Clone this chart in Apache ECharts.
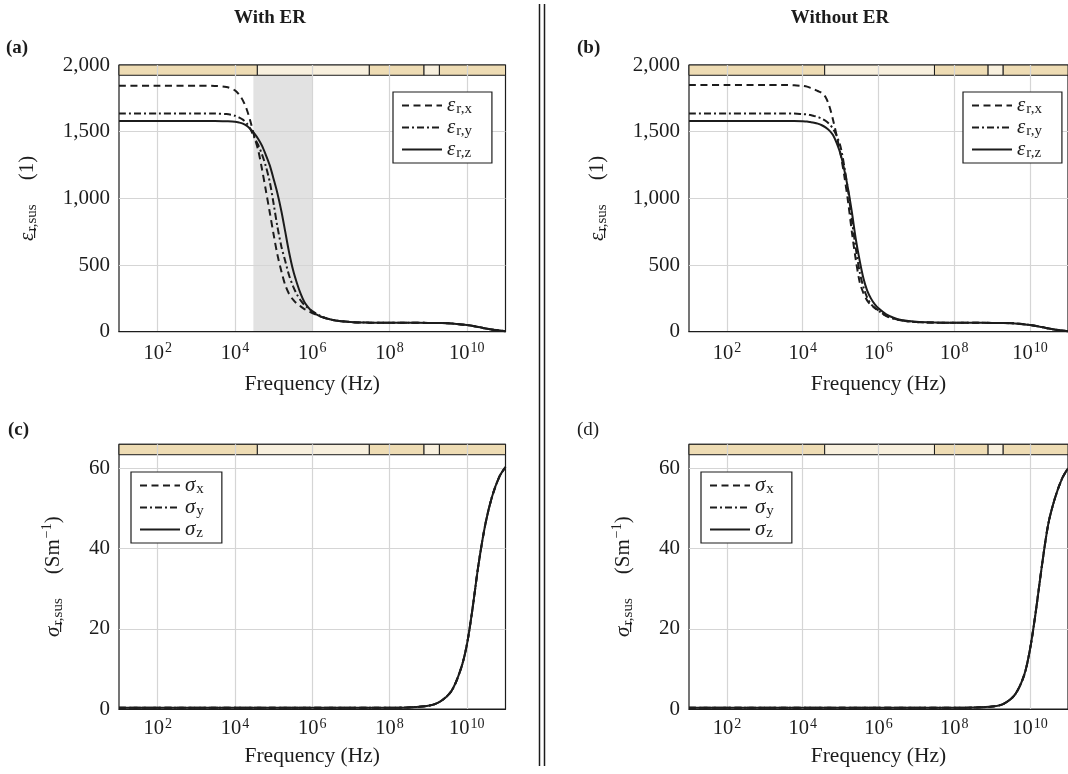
<!DOCTYPE html>
<html>
<head>
<meta charset="utf-8">
<script src="https://cdn.jsdelivr.net/npm/echarts@6/dist/echarts.min.js"></script>
<style>
  html, body { margin: 0; padding: 0; background: #fff; }
  #chart { width: 1068px; height: 774px; }
</style>
</head>
<body>
<div id="chart"></div>
<script>
// ---- data -------------------------------------------------------------
// frequency grid (Hz) of the permittivity curves
const freqEps = [1e1, 1e2, 1e3, 3e3, 6e3, 1e4, 1.3e4, 1.6e4, 2e4, 2.5e4,
                 3.2e4, 4e4, 5e4, 6.3e4, 8e4, 1e5, 1.25e5, 1.6e5, 2e5, 2.5e5,
                 3.2e5, 4e5, 5e5, 6.3e5, 8e5, 1e6, 1.6e6, 2.5e6, 4e6, 1e7,
                 3e7, 1e8, 3e8, 1e9, 2e9, 4e9, 1e10, 2e10, 4e10, 1e11];

// relative permittivity of the suspension, with ER
const epsXWithER = [1845, 1845, 1845, 1843, 1835, 1810, 1775, 1735, 1670, 1580,
                    1460, 1360, 1220, 1060, 890, 730, 580, 450, 350, 285,
                    240, 210, 190, 170, 155, 140, 115, 97, 84, 72,
                    68, 67, 67, 66, 65, 62, 50, 35, 18, 4];
const epsYWithER = [1637, 1637, 1637, 1636, 1632, 1620, 1605, 1590, 1565, 1520,
                    1455, 1400, 1330, 1240, 1120, 960, 790, 635, 530, 425,
                    340, 280, 235, 200, 175, 155, 120, 98, 84, 72,
                    68, 67, 67, 66, 65, 62, 50, 35, 18, 4];
const epsZWithER = [1580, 1580, 1580, 1580, 1578, 1575, 1568, 1560, 1545, 1520,
                    1485, 1445, 1395, 1325, 1245, 1145, 1040, 900, 750, 600,
                    460, 365, 285, 220, 180, 150, 115, 97, 84, 72,
                    68, 67, 67, 66, 65, 62, 50, 35, 18, 4];

// relative permittivity of the suspension, without ER
const epsXNoER = [1850, 1850, 1850, 1850, 1848, 1843, 1838, 1828, 1818, 1805,
                  1790, 1760, 1695, 1590, 1460, 1330, 1170, 960, 740, 545,
                  370, 290, 235, 200, 178, 160, 118, 98, 84, 72,
                  68, 67, 67, 66, 65, 62, 50, 35, 18, 4];
const epsYNoER = [1637, 1637, 1637, 1637, 1636, 1632, 1630, 1625, 1618, 1610,
                  1597, 1582, 1558, 1522, 1465, 1385, 1240, 1045, 830, 630,
                  445, 335, 258, 208, 178, 157, 118, 98, 84, 72,
                  68, 67, 67, 66, 65, 62, 50, 35, 18, 4];
const epsZNoER = [1580, 1580, 1580, 1580, 1580, 1578, 1576, 1572, 1567, 1560,
                  1548, 1532, 1510, 1475, 1410, 1330, 1215, 1060, 890, 700,
                  530, 400, 310, 250, 205, 175, 130, 105, 88, 74,
                  69, 67, 67, 66, 65, 62, 50, 35, 18, 4];

// conductivity (S/m); the x, y and z components coincide
const freqSigma = [1e1, 1e3, 1e5, 1e7, 1e8, 3e8, 1e9, 2e9, 4e9, 7e9,
                   1e10, 1.4e10, 2e10, 3e10, 4.5e10, 7e10, 1e11];
const sigmaWithER = [0.3, 0.3, 0.3, 0.3, 0.32, 0.4, 0.8, 1.8, 4.5, 10,
                     16, 25, 36, 46, 53, 58, 60.3];
const sigmaNoER = [0.3, 0.3, 0.3, 0.3, 0.3, 0.35, 0.6, 1.3, 3.6, 8.5,
                   15, 24, 35, 46, 52.5, 57.5, 60];

// frequency bands shown in the strip above each plot
const bandEdges = [1e1, 3.8e4, 3e7, 7.8e8, 1.95e9, 1e11];
const bandColors = ['#eedcb4', '#f8f0de', '#eedcb4', '#f8f0de', '#eedcb4'];
// highlighted frequency range in panel (a)
const shadedRange = [3e4, 1e6];

// axis extents; frequency ticks every two decades
const freqRange = [1e1, 1e11];
const freqTickBase = 100;
const epsAxis = { max: 2000, step: 500, stripFrom: 1923 };
const sigmaAxis = { max: 66, step: 20, stripFrom: 63.4 };

// ---- styling ----------------------------------------------------------
const SERIF = "'Liberation Serif', 'DejaVu Serif', serif";
const INK = '#1c1c1c';
const GRIDLINE = '#d5d5d5';
const DASH = [7, 4.5];
const DASHDOT = [7, 3, 2, 3];

const panels = [
  { left: 119, top: 65,    height: 266.7, axis: epsAxis,   kind: 'eps',   nameGap: 42, labelMargin: 10 },
  { left: 689, top: 65,    height: 266.7, axis: epsAxis,   kind: 'eps',   nameGap: 42, labelMargin: 10 },
  { left: 119, top: 444.3, height: 264.7, axis: sigmaAxis, kind: 'sigma', nameGap: 36, labelMargin: 8 },
  { left: 689, top: 444.3, height: 264.7, axis: sigmaAxis, kind: 'sigma', nameGap: 36, labelMargin: 8 }
];
const PLOT_W = 386.5;

const pairs = (xs, ys) => xs.map((x, i) => [x, ys[i]]);

const nameRich = {
  g:  { fontFamily: SERIF, fontSize: 21, fontStyle: 'italic', color: INK },
  s:  { fontFamily: SERIF, fontSize: 15, color: INK, padding: [11, 0, 0, 1] },
  m:  { fontFamily: SERIF, fontSize: 21, color: INK },
  mg: { fontFamily: SERIF, fontSize: 21, color: INK, padding: [0, 0, 0, 24] },
  p:  { fontFamily: SERIF, fontSize: 14, color: INK, padding: [0, 0, 11, 1] }
};

function curve(name, idx, xs, ys, type) {
  return {
    type: 'line', name, xAxisIndex: idx, yAxisIndex: idx,
    data: pairs(xs, ys), symbol: 'none', showSymbol: false,
    smooth: 0.3, silent: true, z: 4,
    lineStyle: { color: INK, width: 2, type },
    itemStyle: { color: INK }
  };
}

function stripSeries(idx, lo, hi) {
  return {
    type: 'line', xAxisIndex: idx, yAxisIndex: idx, data: [], silent: true, z: 3,
    markArea: {
      silent: true,
      itemStyle: { borderColor: INK, borderWidth: 1 },
      label: { show: false },
      data: bandColors.map((c, i) => [
        { coord: [bandEdges[i], lo], itemStyle: { color: c, borderColor: INK, borderWidth: 1 } },
        { coord: [bandEdges[i + 1], hi] }
      ])
    }
  };
}

function shadeSeries(idx, lo, hi) {
  return {
    type: 'line', xAxisIndex: idx, yAxisIndex: idx, data: [], silent: true, z: 1,
    markArea: {
      silent: true,
      label: { show: false },
      itemStyle: { color: '#e2e2e2', borderWidth: 0 },
      data: [[{ coord: [shadedRange[0], lo] }, { coord: [shadedRange[1], hi] }]]
    }
  };
}

const grids = panels.map(p => ({
  left: p.left, top: p.top, width: PLOT_W, height: p.height,
  show: true, borderColor: INK, borderWidth: 1.2, backgroundColor: '#fff', z: 0
}));

const xAxes = panels.map((p, i) => ({
  type: 'log', logBase: freqTickBase, gridIndex: i, min: freqRange[0], max: freqRange[1],
  splitNumber: 5, z: 2,
  name: 'Frequency (Hz)', nameLocation: 'middle', nameGap: p.nameGap,
  nameTextStyle: { fontFamily: SERIF, fontSize: 21.5, color: INK },
  axisLine: { show: true, lineStyle: { color: INK, width: 1.2 } },
  axisTick: { show: false },
  minorTick: { show: false },
  splitLine: { show: true, showMinLine: false, showMaxLine: false,
               lineStyle: { color: GRIDLINE, width: 1.2 } },
  axisLabel: {
    margin: p.labelMargin, showMinLabel: false, showMaxLabel: false,
    formatter: v => '{m|10}{p|' + Math.round(Math.log10(v)) + '}',
    rich: {
      m: { fontFamily: SERIF, fontSize: 20.5, color: INK },
      p: { fontFamily: SERIF, fontSize: 14, color: INK, padding: [0, 0, 10, 1] }
    }
  }
}));

const yAxes = panels.map((p, i) => ({
  type: 'value', gridIndex: i, min: 0, max: p.axis.max, interval: p.axis.step, z: 2,
  name: p.kind === 'eps'
    ? '{g|ε\u0332}{s|r,sus}{mg|(1)}'
    : '{g|σ\u0332}{s|r,sus}{mg|(Sm}{p|\u22121}{m|)}',
  nameLocation: 'middle', nameRotate: 90,
  nameGap: p.kind === 'eps' ? 79 : 53,
  nameTextStyle: { rich: nameRich },
  axisLine: { show: false },
  axisTick: { show: false },
  splitLine: { show: true, showMinLine: false, showMaxLine: false,
               lineStyle: { color: GRIDLINE, width: 1.2 } },
  axisLabel: {
    margin: 9, showMaxLabel: p.kind === 'eps',
    fontFamily: SERIF, fontSize: 21, color: INK,
    formatter: v => v.toLocaleString('en-US')
  }
}));

const series = [
  shadeSeries(0, 0, epsAxis.stripFrom),
  stripSeries(0, epsAxis.stripFrom, epsAxis.max),
  curve('εx', 0, freqEps, epsXWithER, DASH),
  curve('εy', 0, freqEps, epsYWithER, DASHDOT),
  curve('εz', 0, freqEps, epsZWithER, 'solid'),

  stripSeries(1, epsAxis.stripFrom, epsAxis.max),
  curve('εx', 1, freqEps, epsXNoER, DASH),
  curve('εy', 1, freqEps, epsYNoER, DASHDOT),
  curve('εz', 1, freqEps, epsZNoER, 'solid'),

  stripSeries(2, sigmaAxis.stripFrom, sigmaAxis.max),
  curve('σx', 2, freqSigma, sigmaWithER, DASH),
  curve('σy', 2, freqSigma, sigmaWithER, DASHDOT),
  curve('σz', 2, freqSigma, sigmaWithER, 'solid'),

  stripSeries(3, sigmaAxis.stripFrom, sigmaAxis.max),
  curve('σx', 3, freqSigma, sigmaNoER, DASH),
  curve('σy', 3, freqSigma, sigmaNoER, DASHDOT),
  curve('σz', 3, freqSigma, sigmaNoER, 'solid')
];

const legendText = name => '{g|' + name[0] + '}{s|' + (name[0] === 'ε' ? 'r,' : '') + name[1] + '}';

function legendBox(names, left, top, rightPad) {
  return {
    orient: 'vertical', left, top, data: names, selectedMode: false,
    itemWidth: 40, itemHeight: 14, itemGap: 0,
    padding: [3, rightPad, 2, 8],
    borderColor: INK, borderWidth: 1.2, backgroundColor: '#fff', z: 6,
    itemStyle: { opacity: 0 },
    formatter: legendText,
    textStyle: { rich: {
      g: { fontFamily: SERIF, fontSize: 21, fontStyle: 'italic', color: INK },
      s: { fontFamily: SERIF, fontSize: 15, color: INK, padding: [8, 0, 0, 1] }
    } }
  };
}

const legends = [
  legendBox(['εx', 'εy', 'εz'], 393, 92, 20),
  legendBox(['εx', 'εy', 'εz'], 963, 92, 20),
  legendBox(['σx', 'σy', 'σz'], 131, 472, 18),
  legendBox(['σx', 'σy', 'σz'], 701, 472, 18)
];

const label = (text, x, y, bold, align) => ({
  type: 'text', x, y, z: 10,
  style: { text, fill: INK, font: (bold ? 'bold ' : '') + '19px ' + SERIF,
           textAlign: align || 'left', textVerticalAlign: 'middle' }
});

const graphic = [
  label('With ER', 270, 18, true, 'center'),
  label('Without ER', 840, 18, true, 'center'),
  label('(a)', 6, 48, true),
  label('(b)', 577, 48, true),
  label('(c)', 8, 430, true),
  label('(d)', 577, 430, false),
  { type: 'line', z: 10, shape: { x1: 539.5, y1: 4, x2: 539.5, y2: 766 }, style: { stroke: INK, lineWidth: 1.5 } },
  { type: 'line', z: 10, shape: { x1: 544.5, y1: 4, x2: 544.5, y2: 766 }, style: { stroke: INK, lineWidth: 1.5 } }
];

const chart = echarts.init(document.getElementById('chart'));
chart.setOption({
  animation: false,
  backgroundColor: '#fff',
  grid: grids,
  xAxis: xAxes,
  yAxis: yAxes,
  legend: legends,
  series,
  graphic
});
</script>
</body>
</html>
